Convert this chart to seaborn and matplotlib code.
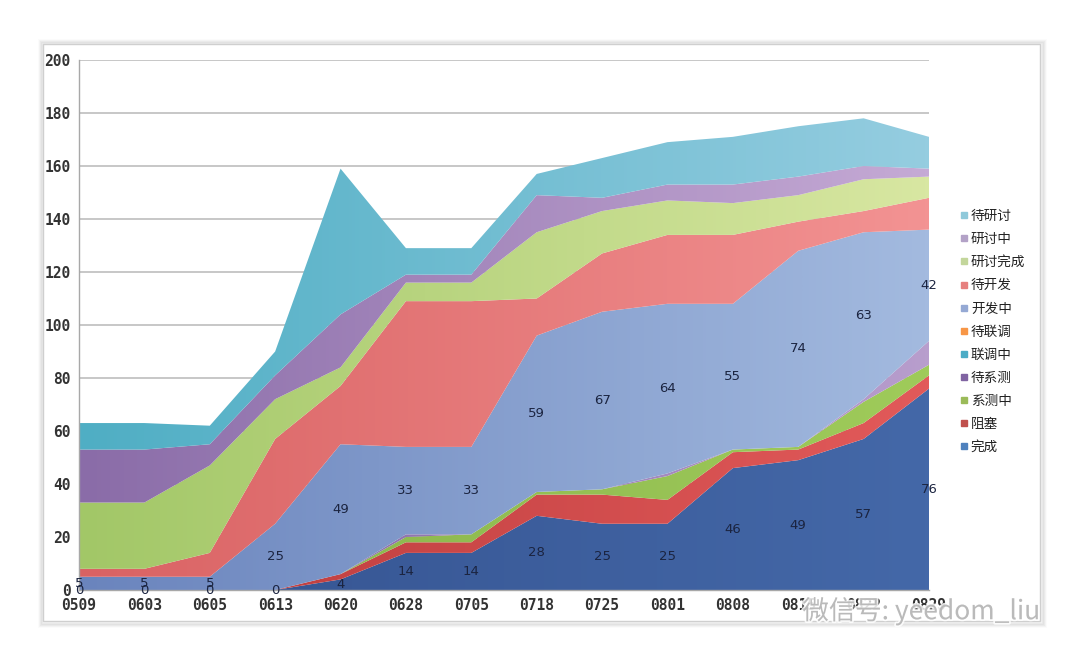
import numpy as np
import matplotlib
matplotlib.use("Agg")
import matplotlib.pyplot as plt
import seaborn as sns
from matplotlib.colors import LinearSegmentedColormap
from matplotlib.lines import Line2D
from matplotlib.patches import Rectangle
import matplotlib.patheffects as pe

# ---------------- data ----------------
dates = ["0509", "0603", "0605", "0613", "0620", "0628", "0705",
         "0718", "0725", "0801", "0808", "0815", "0822", "0829"]
series_names = ["完成", "阻塞", "系测中", "待系测", "联调中", "待联调",
                "开发中", "待开发", "研讨完成", "研讨中", "待研讨"]

done       = [0, 0, 0, 0, 4, 14, 14, 28, 25, 25, 46, 49, 57, 76]
blocked    = [0, 0, 0, 0, 2, 4, 4, 8, 11, 9, 6, 4, 6, 5]
sys_test   = [0, 0, 0, 0, 0, 2, 3, 1, 2, 9, 1, 1, 8, 4]
wait_sys   = [0, 0, 0, 0, 0, 1, 0, 0, 0, 1, 0, 0, 1, 9]
joint      = [0, 0, 0, 0, 0, 0, 0, 0, 0, 0, 0, 0, 0, 0]
wait_joint = [0, 0, 0, 0, 0, 0, 0, 0, 0, 0, 0, 0, 0, 0]
dev        = [5, 5, 5, 25, 49, 33, 33, 59, 67, 64, 55, 74, 63, 42]
wait_dev   = [3, 3, 9, 32, 22, 55, 55, 14, 22, 26, 26, 11, 8, 12]
disc_done  = [25, 25, 33, 15, 7, 7, 7, 25, 16, 13, 12, 10, 12, 8]
disc       = [20, 20, 8, 9, 20, 3, 3, 14, 5, 6, 7, 7, 5, 3]
wait_disc  = [10, 10, 7, 9, 55, 10, 10, 8, 15, 16, 18, 19, 18, 12]

values = [done, blocked, sys_test, wait_sys, joint, wait_joint,
          dev, wait_dev, disc_done, disc, wait_disc]

# gradient colours (left -> right) and legend colours
grad_colors = [
    ("#34528F", "#4468A8"),   # 完成
    ("#B8393A", "#E25A5A"),   # 阻塞
    ("#86B04A", "#9FCB5A"),   # 系测中
    ("#7A5C9E", "#B89ECD"),   # 待系测
    ("#4BACC6", "#4BACC6"),   # 联调中
    ("#F79646", "#F79646"),   # 待联调
    ("#6A84BD", "#A3BADF"),   # 开发中
    ("#D96263", "#F39393"),   # 待开发
    ("#A2C767", "#D8E7A2"),   # 研讨完成
    ("#8A6CA8", "#C5AAD5"),   # 研讨中
    ("#4FAEC4", "#95CDE0"),   # 待研讨
]
legend_colors = ["#4F81BD", "#C0504D", "#9BBB59", "#8064A2", "#4BACC6",
                 "#F79646", "#95A9D4", "#E6807E", "#C3D69B", "#B3A2C7",
                 "#8FC9DA"]

# ---------------- style ----------------
sns.set_theme(style="white")
plt.rcParams["font.family"] = ["DejaVu Sans", "Noto Sans CJK SC"]

W, H = 1080, 661
fig = plt.figure(figsize=(W / 100, H / 100), dpi=100)
fig.patch.set_facecolor("white")

# outer chart frame with soft shadow
fx0, fy0, fx1, fy1 = 43, 44, 1040, 621
for i, a in enumerate([0.05, 0.04, 0.03, 0.02]):
    d = i + 1
    fig.patches.append(Rectangle(((fx0 - d) / W, (H - fy1 - d - 1) / H),
                                 (fx1 - fx0 + 2 * d + 1) / W, (fy1 - fy0 + 2 * d + 1) / H,
                                 transform=fig.transFigure, fill=False,
                                 edgecolor="black", alpha=a, lw=2, zorder=-2))
fig.patches.append(Rectangle((fx0 / W, (H - fy1) / H), (fx1 - fx0) / W, (fy1 - fy0) / H,
                             transform=fig.transFigure, facecolor="white",
                             edgecolor="#CFCFCF", lw=1, zorder=-1))

ax = fig.add_axes([79 / W, (H - 590) / H, (929 - 79) / W, (590 - 60) / H])
ax.set_facecolor("none")

x = np.arange(len(dates))
polys = ax.stackplot(x, *values, colors=[c[1] for c in grad_colors],
                     linewidth=0, zorder=2)

grad = np.linspace(0, 1, 256).reshape(1, -1)
for poly, (cl, cr) in zip(polys, grad_colors):
    cmap = LinearSegmentedColormap.from_list("g", [cl, cr])
    im = ax.imshow(grad, cmap=cmap, aspect="auto",
                   extent=(0, len(dates) - 1, 0, 200), origin="lower",
                   interpolation="bilinear", zorder=2)
    im.set_clip_path(poly.get_paths()[0], transform=ax.transData)
    poly.set_facecolor("none")
    poly.set_edgecolor("none")

ax.set_xlim(0, len(dates) - 1)
ax.set_ylim(0, 200)
ax.set_yticks(np.arange(0, 201, 20))
ax.set_xticks(x)
ax.set_xticklabels(dates)
ax.yaxis.grid(True, color="#BDBDBD", lw=1.2)
ax.xaxis.grid(False)
ax.set_axisbelow(True)

for s in ["top", "right"]:
    ax.spines[s].set_visible(False)
for s in ["left", "bottom"]:
    ax.spines[s].set_color("#A8A8A8")
    ax.spines[s].set_linewidth(1.0)
    ax.spines[s].set_zorder(3)

ax.tick_params(axis="both", which="major", direction="out", length=4, width=1,
               color="#A8A8A8", labelcolor="#333333", pad=2)
for lab in ax.get_xticklabels() + ax.get_yticklabels():
    lab.set_fontfamily("DejaVu Sans Mono")
    lab.set_fontweight("bold")
    lab.set_fontsize(10.5)

# data labels (centre of 完成 and 开发中 bands)
cum = np.cumsum(np.array(values), axis=0)
idx_done, idx_dev = 0, 6
for i in range(len(dates)):
    t0 = cum[idx_done][i]
    ax.text(x[i], t0 / 2, f"{done[i]}", ha="center", va="center",
            fontsize=9.5, color="#1B2440", zorder=5)
    b1 = cum[idx_dev - 1][i]
    t1 = cum[idx_dev][i]
    ax.text(x[i], (b1 + t1) / 2, f"{dev[i]}", ha="center", va="center",
            fontsize=9.5, color="#1B2440", zorder=5)

# legend (top series first)
handles = [Line2D([], [], marker="s", ls="", color=c, markersize=4.5)
           for c in legend_colors[::-1]]
leg = fig.legend(handles, series_names[::-1], loc="upper left",
                 bbox_to_anchor=(960 / W, (H - 209) / H), frameon=False,
                 handlelength=0.6, handletextpad=0.2, labelspacing=0.67,
                 borderpad=0, borderaxespad=0,
                 prop={"family": ["Noto Sans CJK SC"], "size": 9.8})
for t in leg.get_texts():
    t.set_color("#222222")

# watermark
fig.text(1040 / W, (H - 611) / H, "微信号: yeedom_liu", ha="right", va="center",
         fontsize=19, color="#B0B0B0", alpha=0.85,
         family=["Noto Sans CJK SC", "DejaVu Sans"], zorder=10,
         path_effects=[pe.withStroke(linewidth=2.5, foreground="white")])

fig.savefig("out.png", dpi=100, facecolor="white")
